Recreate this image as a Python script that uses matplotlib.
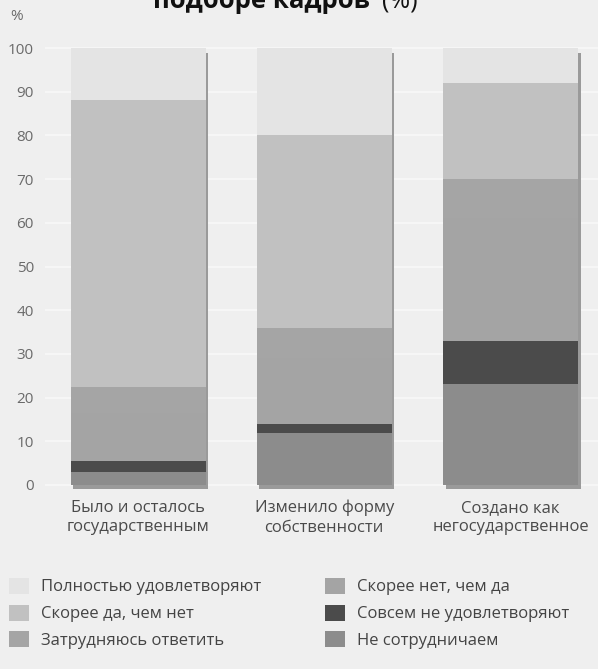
import numpy as np
import matplotlib
matplotlib.use("Agg")
import matplotlib.pyplot as plt
from matplotlib.patches import Patch

plt.rcParams["font.family"] = ["Open Sans", "DejaVu Sans"]

# данные (снизу вверх в каждом столбце)
categories = ["Было и осталось\nгосударственным",
              "Изменило форму\nсобственности",
              "Создано как\nнегосударственное"]
ne_sotrudnichaem = [3, 12, 23]
sovsem_ne = [2.5, 2, 10]
skoree_net = [11, 15, 28]
zatrudnyayus = [6, 7, 9]
skoree_da = [65.5, 44, 22]
polnostyu = [12, 20, 8]

series = [
    ("Не сотрудничаем", ne_sotrudnichaem, "#8c8c8c"),
    ("Совсем не удовлетворяют", sovsem_ne, "#4b4b4b"),
    ("Скорее нет, чем да", skoree_net, "#a4a4a4"),
    ("Затрудняюсь ответить", zatrudnyayus, "#a5a5a5"),
    ("Скорее да, чем нет", skoree_da, "#c1c1c1"),
    ("Полностью удовлетворяют", polnostyu, "#e4e4e4"),
]
legend_order = ["Полностью удовлетворяют", "Скорее да, чем нет", "Затрудняюсь ответить",
                "Скорее нет, чем да", "Совсем не удовлетворяют", "Не сотрудничаем"]

BG = "#efefef"
W, H = 598, 669

fig = plt.figure(figsize=(W / 100, H / 100), dpi=100, facecolor=BG)
ax = fig.add_axes([45 / W, 1 - 495 / H, (W - 45) / W, (495 - 40) / H])
ax.set_facecolor(BG)

x = np.arange(len(categories))
width = 0.726
totals = np.sum([s[1] for s in series], axis=0)

# тень справа и снизу
ax.bar(x + 0.014, totals - 0.2, width=width, bottom=-1.0, color="#9a9a9a", zorder=1)

bottom = np.zeros(len(categories))
for name, vals, col in series:
    ax.bar(x, vals, width=width, bottom=bottom, color=col, label=name, zorder=2)
    bottom += np.array(vals)

ax.set_xlim(-0.5, 2.47)
ax.set_ylim(-10 / 4.37, 100 + 8 / 4.37)
ax.set_yticks(range(0, 101, 10))
ax.tick_params(axis="y", length=0, labelsize=11, labelcolor="#6a6a6a", pad=8)
ax.set_xticks([])
ax.yaxis.grid(True, color="#f8f8f8", linewidth=1.2, zorder=0)
ax.set_axisbelow(True)
for sp in ax.spines.values():
    sp.set_visible(False)

for xi, lab in zip(x, categories):
    ax.text(xi, -3.4, lab, ha="center", va="top", fontsize=12, color="#4a4a4a",
            linespacing=1.3)

fig.text(10 / W, 1 - 17 / H, "%", ha="left", va="center", fontsize=11, color="#6a6a6a")

# заголовок, обрезанный сверху
fig.text(370 / W, 1 - 8 / H, "подборе кадров", ha="right", va="baseline",
         fontsize=18.5, fontweight="bold", color="#111111")
fig.text(382 / W, 1 - 8 / H, "(%)", ha="left", va="baseline", fontsize=18, color="#111111")

handles = {n: Patch(facecolor=c, edgecolor="none") for n, _, c in series}
fig.legend([handles[n] for n in legend_order], legend_order, ncol=2,
           loc="upper left", bbox_to_anchor=(2 / W, 1 - 571 / H),
           frameon=False, fontsize=12, labelcolor="#444444",
           handlelength=1.2, handleheight=1.1, handletextpad=0.75,
           labelspacing=0.55, columnspacing=3.8, borderaxespad=0)

fig.savefig("out.png", dpi=100, facecolor=BG)
